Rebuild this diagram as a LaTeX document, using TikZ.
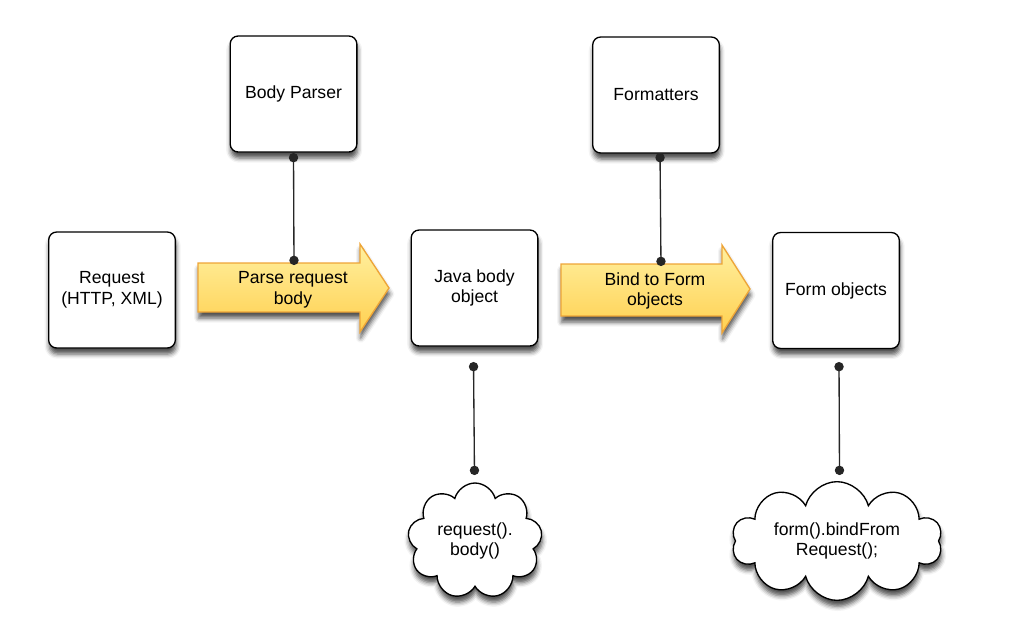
\documentclass[tikz,border=0pt]{standalone}
\usepackage{fontspec}
\setmainfont{Liberation Sans}
\usetikzlibrary{shapes.symbols,shadows.blur,arrows.meta}

\definecolor{arrowedge}{RGB}{238,165,55}
\definecolor{arrowtop}{RGB}{255,240,160}
\definecolor{arrowbottom}{RGB}{255,208,80}

\tikzset{
  every picture/.style={line width=0.75pt},
  softshadow/.style={blur shadow={shadow xshift=0.5pt, shadow yshift=-4.5pt, shadow blur radius=3.5pt, shadow opacity=70}},
  stepbox/.style={draw, line width=1pt, rounded corners=6pt, fill=white, minimum width=95pt, minimum height=87pt, align=center, font=\fontsize{13.2}{15.5}\selectfont, softshadow},
  codecloud/.style={cloud, cloud puffs=9, cloud ignores aspect, draw, line width=1pt, fill=white, align=center, font=\fontsize{13.2}{15.5}\selectfont, softshadow},
  bigarrow/.style={draw=arrowedge, line width=1pt, top color=arrowtop, bottom color=arrowbottom, softshadow},
  arrowtext/.style={align=center, font=\fontsize{13.2}{15.5}\selectfont},
  link/.style={draw=black!85, line width=1pt, {Circle[length=7pt]}-{Circle[length=7pt]}}
}

\begin{document}
\begin{tikzpicture}[x=0.75pt,y=0.75pt,yscale=-1,xscale=1]
    \useasboundingbox (0,0) rectangle (1009,637);

    %Big arrows
    \draw [bigarrow] (198,263) -- (360,263) -- (360,244) -- (389,288) -- (360,332) -- (360,312) -- (198,312) -- cycle ;
    \draw [bigarrow] (561,264) -- (722,264) -- (722,245) -- (750,289) -- (722,333) -- (722,316) -- (561,316) -- cycle ;
    \node [arrowtext] (parse) at (293,290) {Parse request\\body};
    \node [arrowtext] (bind) at (655,291) {Bind to Form\\objects};

    %Boxes
    \node [stepbox] (bparser) at (293.5,94) {Body Parser};
    \node [stepbox] (formatters) at (656,95) {Formatters};
    \node [stepbox] (request) at (112,290) {Request\\(HTTP, XML)};
    \node [stepbox] (javabody) at (474.5,288) {Java body\\object};
    \node [stepbox] (formobj) at (836,290.5) {Form objects};

    %Clouds
    \node [codecloud, minimum width=101pt, minimum height=87pt] (reqbody) at (475,541) {request().\\body()};
    \node [codecloud, cloud puffs=10, minimum width=158pt, minimum height=89pt] (bindreq) at (837,541) {form().bindFrom\\Request();};

    %Dot ends of the links
    \coordinate (bp-out) at (293.5,153);
    \coordinate (parse-in) at (294,265);
    \coordinate (fm-out) at (660,153);
    \coordinate (bind-in) at (661,266);
    \coordinate (jb-out) at (473.5,362);
    \coordinate (rb-in) at (474.5,475);
    \coordinate (fo-out) at (839,362);
    \coordinate (br-in) at (839.5,475);

    %Links
    \draw [link] (bp-out) -- (parse-in) ;
    \draw [link] (fm-out) -- (bind-in) ;
    \draw [link] (jb-out) -- (rb-in) ;
    \draw [link] (fo-out) -- (br-in) ;

\end{tikzpicture}
\end{document}
